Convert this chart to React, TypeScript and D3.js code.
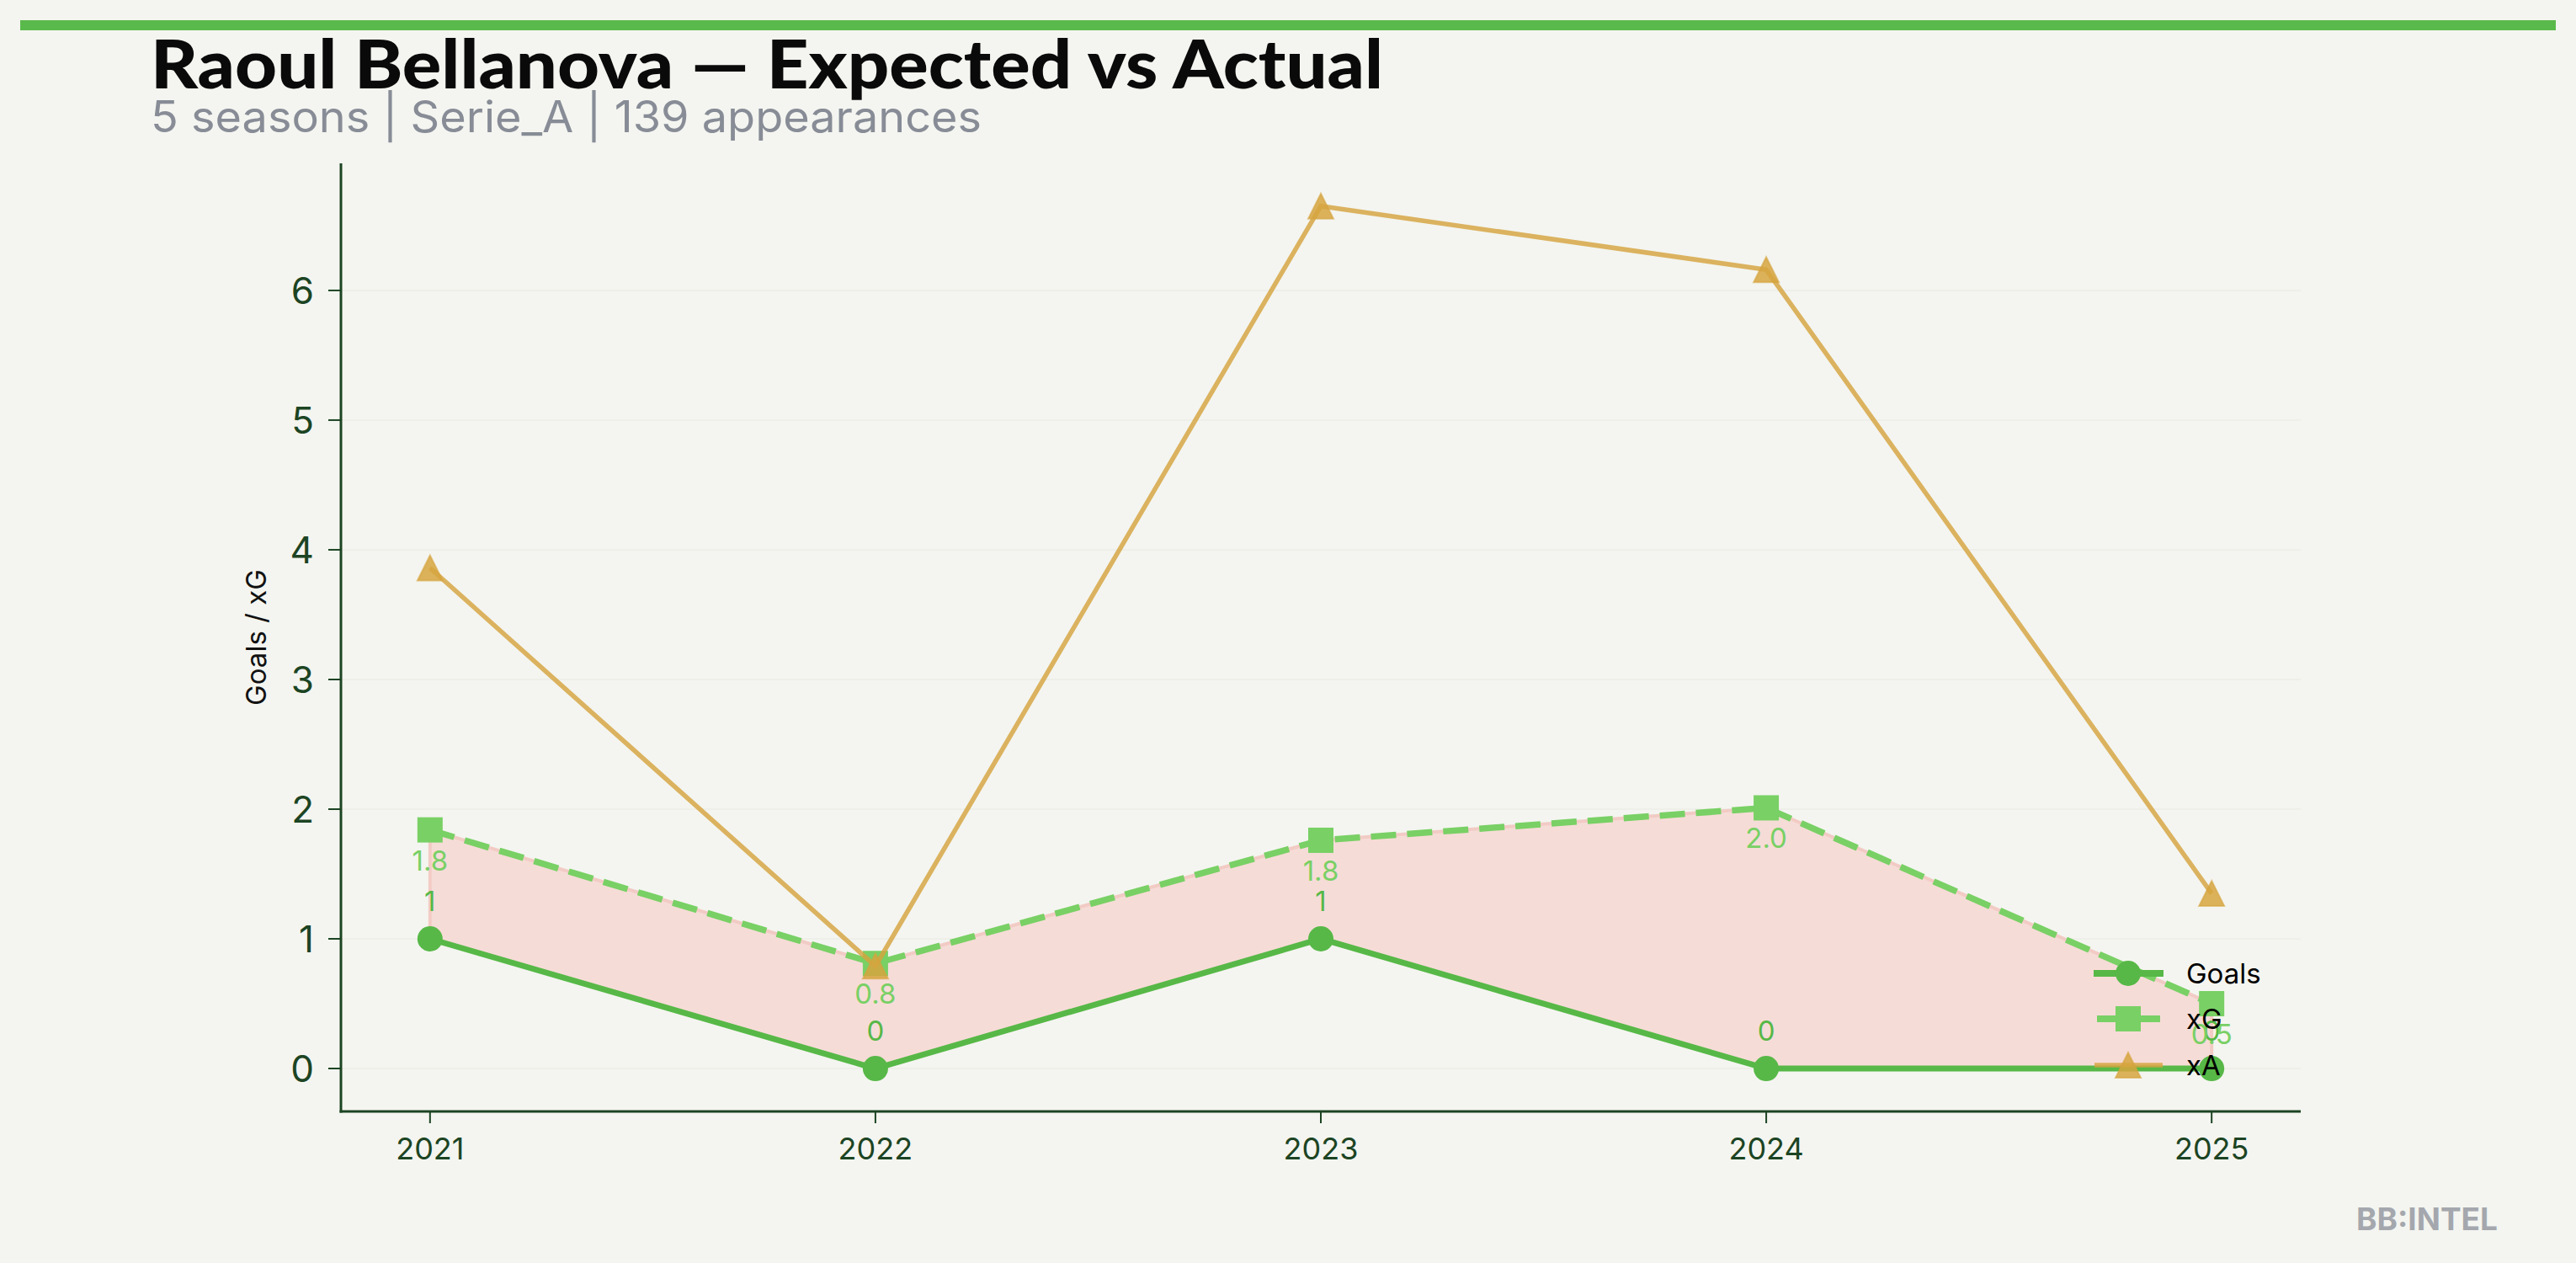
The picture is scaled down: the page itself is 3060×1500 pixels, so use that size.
import React from "react";
import * as d3 from "d3";

const seasons = [2021, 2022, 2023, 2024, 2025];
const goals = [1, 0, 1, 0, 0];
const xG = [1.84, 0.81, 1.76, 2.01, 0.5];
const xA = [3.86, 0.79, 6.65, 6.16, 1.35];
const yTicks = [0, 1, 2, 3, 4, 5, 6];
const legendItems = ["Goals", "xG", "xA"];

const W = 3060;
const H = 1500;
const BG = "#f4f5f0";
const GOALS = "#57b847";
const XG = "#79d065";
const XA = "#d6a43e";
const AXIS = "#1c4423";

export default function App() {
  const x = d3.scaleLinear().domain([2020.8, 2025.2]).range([405, 2733]);
  const y = d3.scaleLinear().domain([-0.331, 6.98]).range([1320, 194]);

  const line = d3
    .line<[number, number]>()
    .x((d) => x(d[0]))
    .y((d) => y(d[1]));
  const area = d3
    .area<number>()
    .x((_, i) => x(seasons[i]))
    .y0((_, i) => y(goals[i]))
    .y1((d) => y(d));

  const gPts = seasons.map((s, i) => [s, goals[i]] as [number, number]);
  const xgPts = seasons.map((s, i) => [s, xG[i]] as [number, number]);
  const xaPts = seasons.map((s, i) => [s, xA[i]] as [number, number]);

  const tri = (cx: number, cy: number, r: number) =>
    `M${cx},${cy - r}L${cx - r},${cy + r}L${cx + r},${cy + r}Z`;

  const font = "Inter, 'DejaVu Sans', sans-serif";
  const legendY = [1156, 1210, 1265];

  return (
    <svg
      width={W}
      height={H}
      style={{ position: "absolute", left: 0, top: 0, display: "block" }}
      fontFamily={font}
    >
      <rect width={W} height={H} fill={BG} />
      <rect x={24} y={24} width={3012} height={12} fill="#5ab94b" />
      <text
        x={179}
        y={105}
        fontFamily="Lato, sans-serif"
        fontWeight={900}
        fontSize={80}
        textLength={1464}
        lengthAdjust="spacingAndGlyphs"
        fill="#0a0a0a"
      >
        Raoul Bellanova — Expected vs Actual
      </text>
      <text
        x={179}
        y={157}
        fontSize={52}
        textLength={987}
        lengthAdjust="spacingAndGlyphs"
        fill="#878c96"
      >
        5 seasons | Serie_A | 139 appearances
      </text>

      {/* grid */}
      {yTicks.map((t) => (
        <line key={"g" + t} x1={405} x2={2733} y1={y(t)} y2={y(t)} stroke="#eeefe8" strokeWidth={2} />
      ))}

      {/* fill between */}
      <path d={area(xG) || ""} fill="#f6dcd7" stroke="#f2cbc5" strokeWidth={4} />

      {/* goals */}
      <path d={line(gPts) || ""} fill="none" stroke={GOALS} strokeWidth={7} />
      {gPts.map((p, i) => (
        <circle key={"gc" + i} cx={x(p[0])} cy={y(p[1])} r={15} fill={GOALS} />
      ))}

      {/* xG */}
      <path d={line(xgPts) || ""} fill="none" stroke={XG} strokeWidth={7.5} strokeDasharray="30 13" />
      {xgPts.map((p, i) => (
        <rect key={"xs" + i} x={x(p[0]) - 15} y={y(p[1]) - 15} width={30} height={30} fill={XG} />
      ))}

      {/* xA */}
      <path d={line(xaPts) || ""} fill="none" stroke={XA} strokeOpacity={0.82} strokeWidth={5.5} />
      {xaPts.map((p, i) => (
        <path
          key={"xt" + i}
          d={tri(x(p[0]), y(p[1]), 15)}
          fill={XA}
          fillOpacity={0.85}
          stroke={XA}
          strokeOpacity={0.6}
          strokeWidth={2}
        />
      ))}

      {/* labels */}
      {gPts.map((p, i) => (
        <text key={"gl" + i} x={x(p[0])} y={y(p[1]) - 33} fontSize={33} textAnchor="middle" fill={GOALS}>
          {String(p[1])}
        </text>
      ))}
      {xgPts.map((p, i) => (
        <text key={"xl" + i} x={x(p[0])} y={y(p[1]) + 48} fontSize={33} textAnchor="middle" fill={XG}>
          {p[1].toFixed(1)}
        </text>
      ))}

      {/* axes */}
      <line x1={405} x2={405} y1={194} y2={1321.5} stroke={AXIS} strokeWidth={3} />
      <line x1={403.5} x2={2733} y1={1320} y2={1320} stroke={AXIS} strokeWidth={3} />
      {yTicks.map((t) => (
        <g key={"yt" + t}>
          <line x1={390} x2={405} y1={y(t)} y2={y(t)} stroke={AXIS} strokeWidth={2} />
          <text x={373} y={y(t)} dy="0.36em" fontSize={44} textAnchor="end" fill={AXIS}>
            {t}
          </text>
        </g>
      ))}
      {seasons.map((s) => (
        <g key={"xt" + s}>
          <line x1={x(s)} x2={x(s)} y1={1320} y2={1334} stroke={AXIS} strokeWidth={2} />
          <text x={x(s)} y={1377} fontSize={36} textAnchor="middle" fill={AXIS}>
            {s}
          </text>
        </g>
      ))}
      <text
        transform={`translate(${316},${757}) rotate(-90)`}
        fontSize={33}
        textAnchor="middle"
        fill="#111"
      >
        Goals / xG
      </text>

      {/* legend */}
      <g>
        <line x1={2487} x2={2570} y1={legendY[0]} y2={legendY[0]} stroke={GOALS} strokeWidth={8} />
        <circle cx={2528} cy={legendY[0]} r={15} fill={GOALS} />
        <line x1={2491} x2={2566} y1={legendY[1]} y2={legendY[1]} stroke={XG} strokeWidth={8} />
        <rect x={2513} y={legendY[1] - 15} width={30} height={30} fill={XG} />
        <line x1={2488} x2={2569} y1={legendY[2]} y2={legendY[2]} stroke={XA} strokeOpacity={0.82} strokeWidth={5.5} />
        <path d={tri(2528, legendY[2], 15)} fill={XA} fillOpacity={0.85} stroke={XA} strokeOpacity={0.6} strokeWidth={2} />
        {legendItems.map((t, i) => (
          <text key={t} x={2597} y={legendY[i]} dy="0.36em" fontSize={33} fill="#000">
            {t}
          </text>
        ))}
      </g>

      <text x={2967} y={1461} fontSize={37} fontWeight={700} textAnchor="end" fill="#a4a7ad">
        BB:INTEL
      </text>
    </svg>
  );
}
